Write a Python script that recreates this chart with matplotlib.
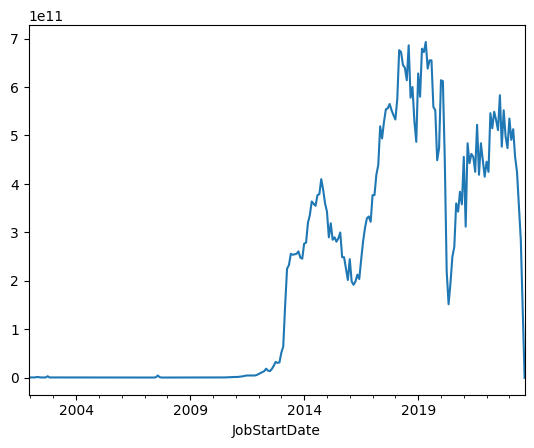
import matplotlib
matplotlib.use('Agg')
import matplotlib.pyplot as plt
import numpy as np
import pandas as pd

start_month = '2001-12'
end_month = '2023-09'
index_name = 'JobStartDate'
scale = 1e11

# monthly values in units of 1e11
v2001 = [0.01]
v2002 = [0.01, 0.01, 0.01, 0.015, 0.02, 0.01, 0.01, 0.01, 0.01, 0.035, 0.01, 0.01]
v2003 = [0.008, 0.008, 0.008, 0.008, 0.008, 0.008, 0.008, 0.008, 0.008, 0.008, 0.008, 0.008]
v2004 = [0.008, 0.008, 0.008, 0.008, 0.008, 0.008, 0.008, 0.008, 0.008, 0.008, 0.008, 0.008]
v2005 = [0.008, 0.008, 0.008, 0.008, 0.008, 0.008, 0.008, 0.008, 0.008, 0.008, 0.008, 0.008]
v2006 = [0.008, 0.008, 0.008, 0.008, 0.008, 0.008, 0.008, 0.008, 0.008, 0.008, 0.008, 0.008]
v2007 = [0.008, 0.008, 0.008, 0.008, 0.008, 0.008, 0.015, 0.05, 0.015, 0.008, 0.008, 0.008]
v2008 = [0.008, 0.008, 0.008, 0.008, 0.008, 0.008, 0.008, 0.008, 0.008, 0.008, 0.008, 0.008]
v2009 = [0.008, 0.008, 0.008, 0.008, 0.008, 0.008, 0.008, 0.008, 0.008, 0.008, 0.008, 0.008]
v2010 = [0.008, 0.008, 0.008, 0.008, 0.008, 0.008, 0.01, 0.012, 0.015, 0.015, 0.018, 0.02]
v2011 = [0.02, 0.02, 0.025, 0.03, 0.035, 0.045, 0.05, 0.05, 0.05, 0.05, 0.05, 0.06]
v2012 = [0.08, 0.10, 0.12, 0.14, 0.19, 0.15, 0.14, 0.185, 0.25, 0.33, 0.31, 0.32]
v2013 = [0.52, 0.65, 1.5, 2.25, 2.33, 2.56, 2.54, 2.55, 2.56, 2.61, 2.48, 2.46]
v2014 = [2.77, 2.79, 3.20, 3.36, 3.64, 3.59, 3.55, 3.77, 3.79, 4.10, 3.88, 3.60]
v2015 = [3.43, 2.90, 3.19, 2.85, 2.90, 2.81, 2.88, 3.00, 2.49, 2.49, 2.26, 2.02]
v2016 = [2.45, 1.99, 1.92, 1.99, 2.13, 2.04, 2.44, 2.81, 3.09, 3.29, 3.33, 3.22]
v2017 = [3.77, 3.77, 4.19, 4.39, 5.19, 4.94, 5.28, 5.54, 5.56, 5.65, 5.52, 5.42]
v2018 = [5.33, 5.75, 6.76, 6.72, 6.45, 6.40, 6.14, 6.86, 5.78, 6.00, 5.30, 4.87]
v2019 = [6.28, 5.80, 6.79, 6.72, 6.93, 6.38, 6.55, 6.55, 5.59, 5.52, 4.49, 4.74]
v2020 = [6.14, 6.12, 4.5, 2.2, 1.52, 1.96, 2.5, 2.70, 3.60, 3.43, 3.84, 3.58]
v2021 = [4.56, 3.12, 4.84, 4.43, 4.62, 4.56, 4.25, 5.22, 4.19, 4.84, 4.49, 4.15]
v2022 = [4.46, 4.25, 5.46, 5.15, 5.49, 5.32, 5.11, 5.83, 4.77, 5.52, 4.98, 4.74]
v2023 = [5.35, 4.91, 5.13, 4.56, 4.25, 3.55, 2.85, 1.4, 0.0]

values = (v2001 + v2002 + v2003 + v2004 + v2005 + v2006 + v2007 + v2008 +
          v2009 + v2010 + v2011 + v2012 + v2013 + v2014 + v2015 + v2016 +
          v2017 + v2018 + v2019 + v2020 + v2021 + v2022 + v2023)

idx = pd.period_range(start_month, end_month, freq='M', name=index_name)
s = pd.Series(np.array(values) * scale, index=idx)

fig, ax = plt.subplots(figsize=(6.4, 4.8), dpi=100)
s.plot(ax=ax)
fig.savefig('out.png', bbox_inches='tight')
